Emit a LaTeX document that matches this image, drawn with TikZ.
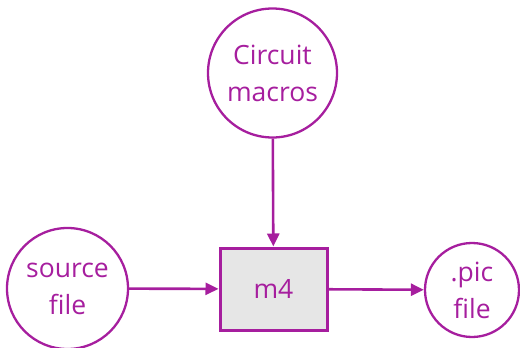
\documentclass[tikz,border=0pt]{standalone}
\usepackage{fontspec}
\setmainfont{Open Sans}
\usetikzlibrary{arrows.meta}
\definecolor{flowpurple}{RGB}{166,30,158}
\definecolor{boxgray}{RGB}{230,230,230}
\begin{document}
\begin{tikzpicture}[x=1pt,y=-1pt,
  every node/.style={text=flowpurple, font=\fontsize{26.5}{37}\selectfont, align=center},
  srcnode/.style={circle, draw=flowpurple, line width=2.3pt, inner sep=0pt},
  procbox/.style={rectangle, draw=flowpurple, line width=3pt, fill=boxgray, inner sep=0pt,
    minimum width=107pt, minimum height=82pt},
  flow/.style={draw=flowpurple, line width=2.6pt, -{Triangle[length=13pt,width=12pt]}}]
  \useasboundingbox (0,0) rectangle (520,348);
  \node[srcnode, minimum size=129pt] (macros) at (272.5,73) {Circuit\\macros};
  \node[srcnode, minimum size=121pt] (source) at (67.5,288.5) {source\\file};
  \node[procbox] (m4) at (273.5,289) {m4};
  \node[srcnode, minimum size=94pt] (pic) at (472,290) {.pic\\file};
  \draw[flow] (macros) -- (m4);
  \draw[flow] (source) -- (m4);
  \draw[flow] (m4) -- (pic);
\end{tikzpicture}
\end{document}
